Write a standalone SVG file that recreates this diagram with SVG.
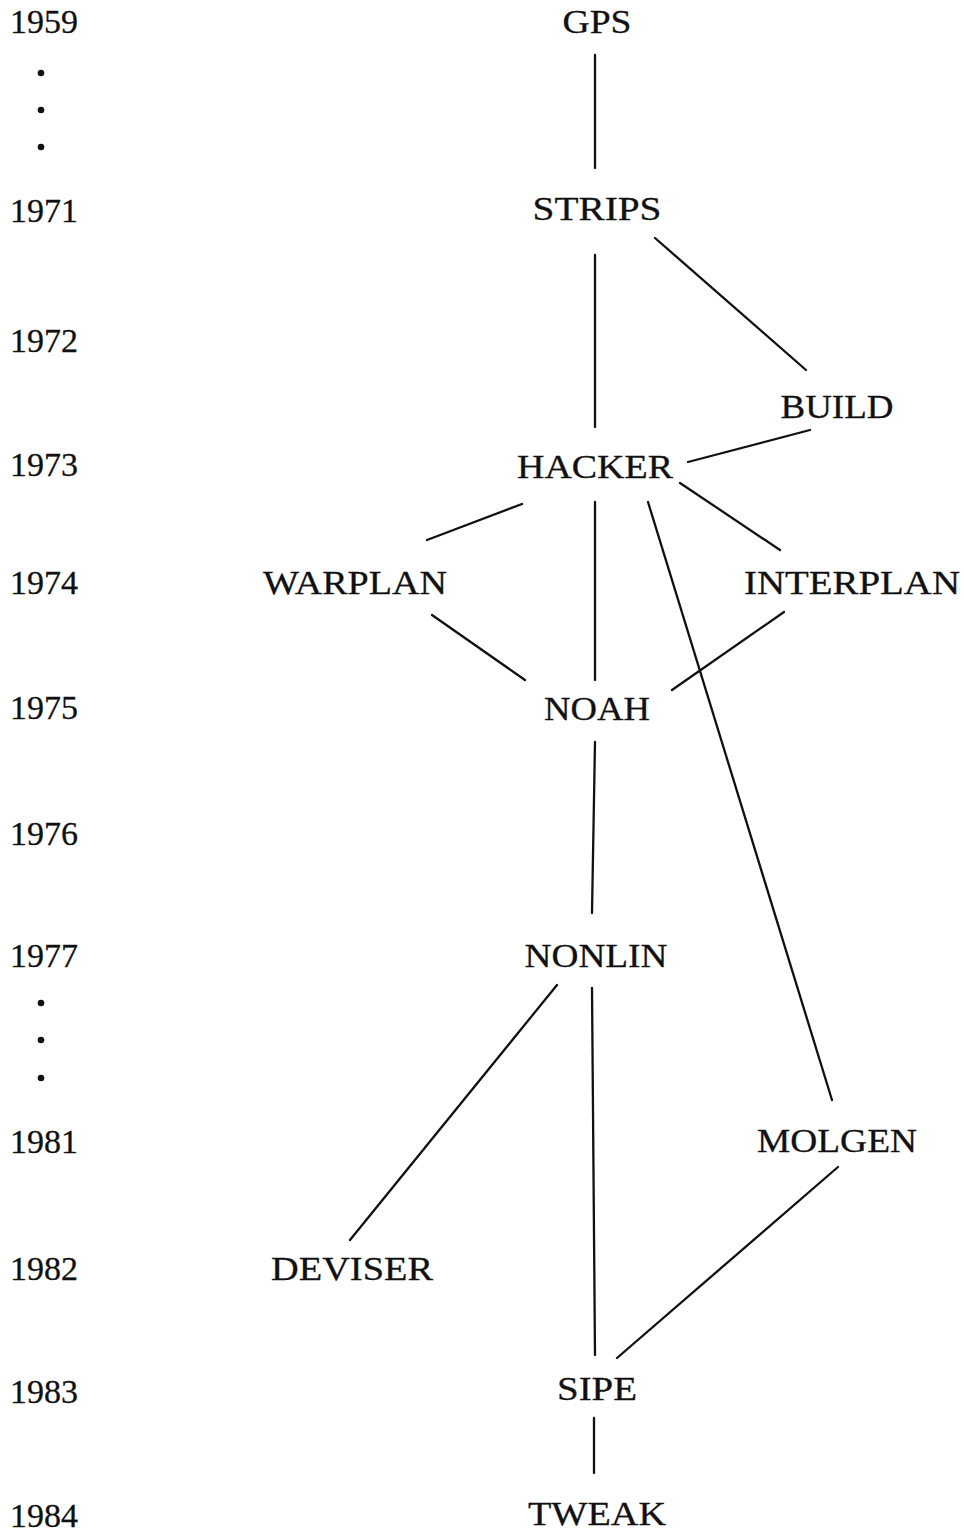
<svg xmlns="http://www.w3.org/2000/svg" width="964" height="1533" viewBox="0 0 964 1533">
<style>
text{font-family:"Liberation Serif","DejaVu Serif",serif;font-size:34px;fill:#111;stroke:#111;stroke-width:0.3}
.n{text-anchor:middle}
.e line{stroke:#111;stroke-width:2.3;stroke-linecap:round}
.d{fill:#111}
</style>
<rect width="964" height="1533" fill="#fff"/>
<g id="years">
<text x="10" y="33" textLength="68" lengthAdjust="spacingAndGlyphs">1959</text>
<circle class="d" cx="41" cy="73" r="3.3"/>
<circle class="d" cx="41" cy="110" r="3.3"/>
<circle class="d" cx="41" cy="147" r="3.3"/>
<text x="10" y="222" textLength="68" lengthAdjust="spacingAndGlyphs">1971</text>
<text x="10" y="352" textLength="68" lengthAdjust="spacingAndGlyphs">1972</text>
<text x="10" y="476" textLength="68" lengthAdjust="spacingAndGlyphs">1973</text>
<text x="10" y="594" textLength="68" lengthAdjust="spacingAndGlyphs">1974</text>
<text x="10" y="719" textLength="68" lengthAdjust="spacingAndGlyphs">1975</text>
<text x="10" y="845" textLength="68" lengthAdjust="spacingAndGlyphs">1976</text>
<text x="10" y="967" textLength="68" lengthAdjust="spacingAndGlyphs">1977</text>
<circle class="d" cx="41" cy="1003" r="3.3"/>
<circle class="d" cx="41" cy="1040" r="3.3"/>
<circle class="d" cx="41" cy="1078" r="3.3"/>
<text x="10" y="1153" textLength="68" lengthAdjust="spacingAndGlyphs">1981</text>
<text x="10" y="1280" textLength="68" lengthAdjust="spacingAndGlyphs">1982</text>
<text x="10" y="1403" textLength="68" lengthAdjust="spacingAndGlyphs">1983</text>
<text x="10" y="1527" textLength="68" lengthAdjust="spacingAndGlyphs">1984</text>
</g>
<g class="e" id="connectors">
<line x1="595" y1="55" x2="595" y2="168"/>
<line x1="595" y1="255" x2="595" y2="427"/>
<line x1="655" y1="238" x2="806" y2="370"/>
<line x1="688" y1="462" x2="810" y2="430"/>
<line x1="522" y1="504" x2="427" y2="540"/>
<line x1="595" y1="502" x2="595" y2="680"/>
<line x1="680" y1="483" x2="780" y2="550"/>
<line x1="648" y1="502" x2="832" y2="1100"/>
<line x1="432" y1="615" x2="525" y2="680"/>
<line x1="784" y1="612" x2="672" y2="690"/>
<line x1="595" y1="742" x2="592" y2="913"/>
<line x1="557" y1="985" x2="350" y2="1240"/>
<line x1="592" y1="988" x2="595" y2="1355"/>
<line x1="838" y1="1167" x2="617" y2="1358"/>
<line x1="594" y1="1418" x2="594" y2="1473"/>
</g>
<g id="GPS"><text class="n" x="597" y="33" textLength="69" lengthAdjust="spacingAndGlyphs">GPS</text></g>
<g id="STRIPS"><text class="n" x="597" y="220" textLength="129" lengthAdjust="spacingAndGlyphs">STRIPS</text></g>
<g id="BUILD"><text class="n" x="837" y="418" textLength="113" lengthAdjust="spacingAndGlyphs">BUILD</text></g>
<g id="HACKER"><text class="n" x="595" y="478" textLength="156" lengthAdjust="spacingAndGlyphs">HACKER</text></g>
<g id="WARPLAN"><text class="n" x="355" y="594" textLength="184" lengthAdjust="spacingAndGlyphs">WARPLAN</text></g>
<g id="INTERPLAN"><text class="n" x="852" y="594" textLength="216" lengthAdjust="spacingAndGlyphs">INTERPLAN</text></g>
<g id="NOAH"><text class="n" x="597" y="720" textLength="106" lengthAdjust="spacingAndGlyphs">NOAH</text></g>
<g id="NONLIN"><text class="n" x="596" y="967" textLength="143" lengthAdjust="spacingAndGlyphs">NONLIN</text></g>
<g id="MOLGEN"><text class="n" x="837" y="1152" textLength="160" lengthAdjust="spacingAndGlyphs">MOLGEN</text></g>
<g id="DEVISER"><text class="n" x="352" y="1280" textLength="162" lengthAdjust="spacingAndGlyphs">DEVISER</text></g>
<g id="SIPE"><text class="n" x="597" y="1400" textLength="80" lengthAdjust="spacingAndGlyphs">SIPE</text></g>
<g id="TWEAK"><text class="n" x="597" y="1525" textLength="138" lengthAdjust="spacingAndGlyphs">TWEAK</text></g>
</svg>
